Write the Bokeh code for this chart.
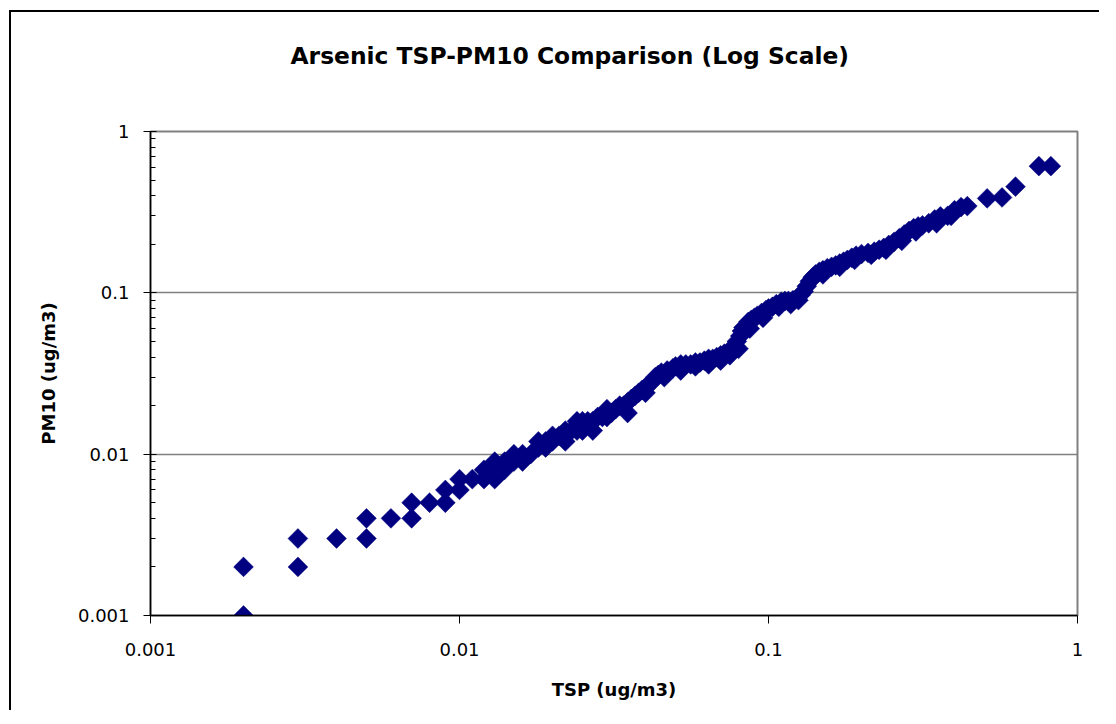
import math
from bokeh.plotting import figure
from bokeh.models import (ColumnDataSource, FixedTicker, CustomJSTickFormatter, Range1d,
                          LinearAxis, Title)
from bokeh.embed import file_html
from bokeh.resources import INLINE

title_text = "Arsenic TSP-PM10 Comparison (Log Scale)"
x_label = "TSP (ug/m3)"
y_label = "PM10 (ug/m3)"
major_ticks = [0.001, 0.01, 0.1, 1]

tsp = [
    0.002, 0.002, 0.003, 0.003, 0.004, 0.005, 0.005, 0.006, 0.007, 0.007,
    0.008, 0.009, 0.009, 0.010, 0.010, 0.011, 0.012, 0.012, 0.013, 0.013,
    0.013, 0.014, 0.015, 0.016, 0.016, 0.017, 0.018, 0.018, 0.019, 0.019,
    0.020, 0.020, 0.021, 0.022, 0.023, 0.024, 0.025, 0.025, 0.026, 0.027,
    0.028, 0.029, 0.030, 0.031, 0.032, 0.033, 0.034, 0.035, 0.036, 0.037,
    0.038, 0.039, 0.040, 0.041, 0.042, 0.043, 0.044, 0.045, 0.047, 0.049,
    0.050, 0.052, 0.054, 0.056, 0.058, 0.060, 0.062, 0.064, 0.066, 0.068,
    0.070, 0.072, 0.074, 0.076, 0.078, 0.079, 0.081, 0.082, 0.083, 0.085,
    0.086, 0.088, 0.090, 0.092, 0.095, 0.098, 0.100, 0.103, 0.106, 0.110,
    0.113, 0.116, 0.120, 0.124, 0.127, 0.130, 0.133, 0.136, 0.139, 0.142,
    0.146, 0.150, 0.155, 0.160, 0.165, 0.170, 0.175, 0.180, 0.186, 0.192,
    0.200, 0.210, 0.220, 0.228, 0.236, 0.245, 0.255, 0.265, 0.275, 0.285,
    0.295, 0.305, 0.315, 0.330, 0.345, 0.360, 0.380, 0.400, 0.420, 0.440,
    0.510, 0.570, 0.630, 0.750, 0.820,
    0.014, 0.015, 0.022, 0.024, 0.027, 0.030, 0.035, 0.040, 0.046, 0.052,
    0.058, 0.064, 0.070, 0.075, 0.080, 0.087, 0.096, 0.108, 0.118, 0.125,
    0.140, 0.150, 0.170, 0.190, 0.215, 0.240, 0.270, 0.300, 0.350, 0.390,
]
pm10 = [
    0.001, 0.002, 0.002, 0.003, 0.003, 0.003, 0.004, 0.004, 0.004, 0.005,
    0.005, 0.005, 0.006, 0.006, 0.007, 0.007, 0.007, 0.008, 0.007, 0.008,
    0.009, 0.009, 0.009, 0.009, 0.010, 0.010, 0.011, 0.012, 0.011, 0.012,
    0.012, 0.013, 0.013, 0.014, 0.014, 0.014, 0.014, 0.016, 0.016, 0.016,
    0.017, 0.017, 0.017, 0.018, 0.019, 0.020, 0.020, 0.021, 0.022, 0.023,
    0.024, 0.025, 0.026, 0.027, 0.028, 0.030, 0.031, 0.032, 0.033, 0.034,
    0.035, 0.036, 0.036, 0.036, 0.037, 0.037, 0.038, 0.039, 0.039, 0.040,
    0.041, 0.042, 0.043, 0.045, 0.047, 0.050, 0.054, 0.058, 0.061, 0.063,
    0.066, 0.068, 0.070, 0.072, 0.075, 0.078, 0.080, 0.082, 0.085, 0.088,
    0.089, 0.089, 0.090, 0.093, 0.097, 0.102, 0.110, 0.118, 0.125, 0.130,
    0.135, 0.138, 0.142, 0.145, 0.148, 0.152, 0.156, 0.160, 0.165, 0.170,
    0.174, 0.177, 0.180, 0.185, 0.190, 0.198, 0.207, 0.218, 0.230, 0.242,
    0.252, 0.258, 0.262, 0.270, 0.285, 0.298, 0.300, 0.325, 0.340, 0.345,
    0.385, 0.390, 0.455, 0.610, 0.610,
    0.008, 0.010, 0.012, 0.016, 0.014, 0.019, 0.018, 0.024, 0.030, 0.033,
    0.035, 0.036, 0.038, 0.041, 0.045, 0.060, 0.070, 0.082, 0.085, 0.090,
    0.125, 0.130, 0.145, 0.160, 0.172, 0.185, 0.210, 0.240, 0.270, 0.300,
]

FONT = "DejaVu Sans"

p = figure(
    width=1090, height=700,
    x_axis_type="log", y_axis_type="log",
    x_range=Range1d(0.001, 1), y_range=Range1d(0.001, 1),
    output_backend="svg", toolbar_location=None,
    min_border_left=139, min_border_right=24,
    min_border_top=119, min_border_bottom=97,
    title=None,
)
# outer chart-area border: only its left and top edges lie inside the window
p.styles = {"margin-left": "9px", "margin-top": "10px",
            "border-left": "2px solid #000000", "border-top": "2px solid #000000"}

# invisible spacer between the plot frame and the title (one hidden tick, empty label)
spacer = LinearAxis(ticker=FixedTicker(ticks=[0.5]),
                    formatter=CustomJSTickFormatter(code="return '';"),
                    axis_line_color=None,
                    major_tick_line_color=None, minor_tick_line_color=None,
                    major_tick_in=0, major_tick_out=62, minor_tick_out=0,
                    major_label_standoff=0, major_label_text_font_size="1px")
p.add_layout(spacer, "above")

chart_title = Title(text=title_text, text_font=FONT, text_font_size="23.4px",
                    text_font_style="bold", text_color="#000000",
                    align="left", offset=140, standoff=0)
p.add_layout(chart_title, "above")

p.background_fill_color = "white"
p.border_fill_color = "white"
p.outline_line_color = "#808080"
p.outline_line_width = 2

src = ColumnDataSource(dict(x=tsp, y=pm10))
p.scatter("x", "y", source=src, marker="square", size=14, angle=math.pi / 4,
          fill_color="#000080", line_color="#000080", line_width=0.5)

minor = []
for d in [0.001, 0.01, 0.1]:
    for k in range(2, 10):
        minor.append(d * k)

tick_fmt = CustomJSTickFormatter(code="return Number(tick.toPrecision(1)).toString();")

for ax in p.below:
    ax.ticker = FixedTicker(ticks=major_ticks)
    ax.formatter = tick_fmt
    ax.axis_label = x_label
    ax.axis_line_color = "#000000"
    ax.axis_line_width = 1.5
    ax.major_tick_line_color = "#000000"
    ax.major_tick_in = 0
    ax.major_tick_out = 8
    ax.minor_tick_line_color = None
    ax.major_label_text_font = FONT
    ax.major_label_text_font_size = "18px"
    ax.major_label_text_color = "#000000"
    ax.major_label_standoff = 19
    ax.axis_label_text_font = FONT
    ax.axis_label_text_font_size = "18px"
    ax.axis_label_text_font_style = "bold"
    ax.axis_label_text_color = "#000000"
    ax.axis_label_standoff = 20

for ax in p.yaxis:
    ax.ticker = FixedTicker(ticks=major_ticks, minor_ticks=minor)
    ax.formatter = tick_fmt
    ax.axis_label = y_label
    ax.axis_line_color = "#000000"
    ax.axis_line_width = 1.5
    ax.major_tick_line_color = "#000000"
    ax.major_tick_in = 6
    ax.major_tick_out = 7
    ax.minor_tick_line_color = "#000000"
    ax.minor_tick_in = 5
    ax.minor_tick_out = 0
    ax.major_label_text_font = FONT
    ax.major_label_text_font_size = "18px"
    ax.major_label_text_color = "#000000"
    ax.major_label_standoff = 14
    ax.axis_label_text_font = FONT
    ax.axis_label_text_font_size = "18px"
    ax.axis_label_text_font_style = "bold"
    ax.axis_label_text_color = "#000000"
    ax.axis_label_standoff = 16

p.xgrid.grid_line_color = None
p.ygrid.grid_line_color = "#808080"
p.ygrid.grid_line_width = 1.5

open("out.html", "w").write(file_html(p, INLINE))
